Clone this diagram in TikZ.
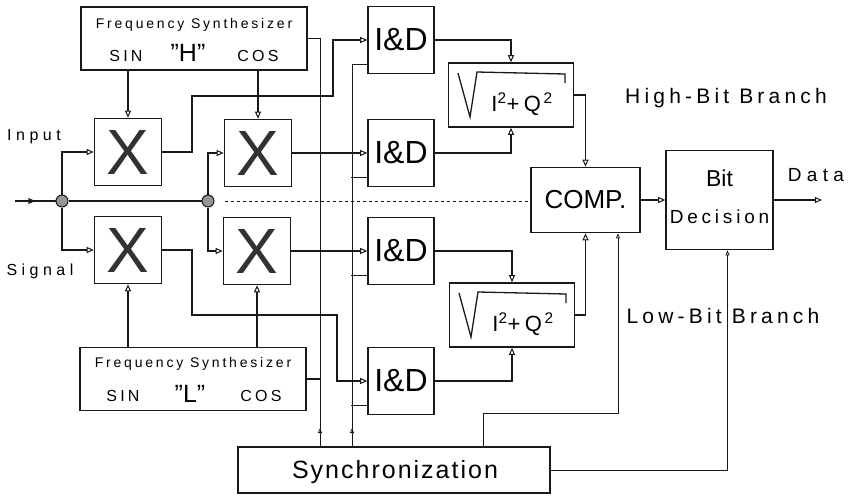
\documentclass[tikz,border=0pt]{standalone}
\usepackage{fontspec}
\setmainfont{Liberation Sans}
\newfontfamily\trackfont[LetterSpace=20]{Liberation Sans}
\newfontfamily\widefont[LetterSpace=28]{Liberation Sans}
\newfontfamily\tightfont[LetterSpace=8]{Liberation Sans}
\usepackage{tikz}
\usetikzlibrary{arrows.meta, positioning, calc, decorations.markings}
\definecolor{ink}{RGB}{25,25,25}
\definecolor{xgrey}{RGB}{50,50,50}
\definecolor{jfill}{RGB}{150,150,150}
\newcommand{\txtsize}[1]{\fontsize{#1}{#1}\selectfont}
\tikzset{
  blockbox/.style={rectangle, draw=ink, line width=1.6pt, inner sep=0pt},
  synthbox/.style={blockbox, minimum width=226pt, minimum height=63pt},
  mixer/.style={blockbox, minimum width=67pt, minimum height=67pt,
    font=\txtsize{64}, text=xgrey},
  intdump/.style={blockbox, minimum width=66pt, minimum height=67pt,
    font=\txtsize{32}},
  magbox/.style={blockbox, minimum width=125pt, minimum height=64pt},
  junction/.style={circle, draw=ink, fill=jfill, line width=1pt,
    minimum size=12pt, inner sep=0pt},
  small/.style={font=\trackfont\txtsize{14}},
  trig/.style={font=\trackfont\txtsize{16}},
  tag/.style={font=\widefont\txtsize{16}, anchor=base},
  branch/.style={font=\trackfont\txtsize{21}, anchor=base},
  wire/.style={line width=1.6pt, color=ink},
  sig/.style={wire, -{Triangle[open, length=7pt, width=6pt, line width=1pt]}},
  ctl/.style={line width=0.8pt, color=ink},
  ctlsig/.style={ctl, -{Triangle[open, length=5pt, width=4pt, line width=0.8pt]}},
  midarrow/.style={postaction={decorate}, decoration={markings,
    mark=at position 0.5 with {\arrow{Triangle[open, length=7pt, width=6pt, line width=1pt]}}}},
  dotline/.style={line width=0.8pt, color=ink, dash pattern=on 3pt off 3pt}
}

\begin{document}
\begin{tikzpicture}[x=1pt, y=-1pt]
  \useasboundingbox (0,0) rectangle (853,496);

  % Frequency synthesizers
  \node[synthbox] (synthH) at (194,38.5) {};
  \node[synthbox] (synthL) at (193,379) {};

  % Mixers
  \node[mixer] (mixA) at (128,152) {X};
  \node[mixer] (mixB) at (258,153) {X};
  \node[mixer] (mixC) at (128,250) {X};
  \node[mixer] (mixD) at (257,251) {X};

  % Integrate and dump
  \node[intdump] (idA) at (401,40) {I\&D};
  \node[intdump] (idB) at (401,153) {I\&D};
  \node[intdump] (idC) at (401,251) {I\&D};
  \node[intdump] (idD) at (401,381) {I\&D};

  % Envelope
  \node[magbox] (magA) at (511,95) {};
  \node[magbox] (magB) at (512,315) {};

  \node[blockbox, minimum width=109pt, minimum height=65pt,
    font=\txtsize{26}] (comp) at (585.5,200) {COMP.};
  \node[blockbox, minimum width=107pt, minimum height=99pt] (bitdec) at (719.5,200) {};
  \node[blockbox, minimum width=312pt, minimum height=46pt] (sync) at (394,470) {};

  \node[junction] (jA) at (62,201) {};
  \node[junction] (jB) at (208,201) {};

  % Texts
  \node[small] (titleH) at ($(synthH.north)+(0,19)$) {Frequency Synthesizer};
  \node[trig] (sinH) at ($(synthH.south -| mixA)+(-2,-15)$) {SIN};
  \node[font=\txtsize{25}] (nameH) at ($(synthH.south)+(-6,-18)$) {"H"};
  \node[trig] (cosH) at ($(synthH.south -| mixB)+(0,-15)$) {COS};
  \node[small] (titleL) at ($(synthL.north)+(0,17)$) {Frequency Synthesizer};
  \node[trig] (sinL) at ($(synthL.south -| mixA)+(-5,-15)$) {SIN};
  \node[font=\txtsize{25}] (nameL) at ($(synthL.south)+(-3,-17)$) {"L"};
  \node[trig] (cosL) at ($(synthL.south -| mixD)+(4,-15)$) {COS};
  \node[font=\txtsize{23}] (bitLbl) at ($(bitdec.center)+(0,-22)$) {Bit};
  \node[font=\trackfont\txtsize{19}] (decLbl) at ($(bitdec.center)+(0,17)$) {Decision};
  \node[font=\tightfont\txtsize{25}, anchor=base] (syncLbl) at (395,478) {Synchronization};
  \node[tag] (inLbl) at (34,140) {Input};
  \node[tag] (sigLbl) at (40,275) {Signal};
  \node[font=\widefont\txtsize{19}, anchor=base] (dataLbl) at (816,181) {Data};
  \node[branch] (hiLbl) at (726,103) {High-Bit Branch};
  \node[branch] (loLbl) at (723,323) {Low-Bit Branch};

  % Square root of I^2+Q^2
  \foreach \m in {magA,magB} {
    \draw[line width=1.3pt, color=ink] ($(\m.center)+(-53,-22)$) -- ($(\m.center)+(-41,22)$)
      -- ($(\m.center)+(-34,-23)$) -- ($(\m.center)+(54,-21)$) -- ($(\m.center)+(54,-12)$);
    \node[font=\trackfont\txtsize{22}] (\m-text) at ($(\m.center)+(11,9)$)
      {I\textsuperscript{2}+Q\textsuperscript{\,2}};
  }

  % Input and splitting
  \coordinate (inStart) at (15,201);
  \draw[wire, midarrow] (inStart) -- (jA);
  \draw[wire] (jA) -- (jB);
  \draw[sig] (jA) |- (mixA.west);
  \draw[sig] (jA) |- (mixC.west);
  \draw[sig] (jB) |- (mixB.west);
  \draw[sig] (jB) |- (mixD.west);
  \draw[dotline] (jB.east) ++(10,0) -- (jB -| comp.west);

  % Local oscillators
  \draw[sig] (synthH.south -| mixA) -- (mixA.north);
  \draw[sig] (synthH.south -| mixB) -- (mixB.north);
  \draw[sig] (synthL.north -| mixC) -- (mixC.south);
  \draw[sig] (synthL.north -| mixD) -- (mixD.south);

  % Mixer outputs
  \coordinate (bendA) at (192,96);
  \coordinate (bendB) at (333,96);
  \coordinate (bendC) at (192,315);
  \coordinate (bendD) at (337,315);
  \draw[sig] (mixA.east) -| (bendA) -- (bendB) |- (idA.west);
  \draw[sig] (mixB.east) -- (idB.west);
  \draw[sig] (mixD.east) -- (idC.west);
  \draw[sig] (mixC.east) -| (bendC) -- (bendD) |- (idD.west);

  % Envelope and comparison
  \draw[sig] (idA.east) -| (magA.north);
  \draw[sig] (idB.east) -| (magA.south);
  \draw[sig] (idC.east) -| (magB.north);
  \draw[sig] (idD.east) -| (magB.south);
  \draw[sig] (magA.east) -| (comp.north);
  \draw[sig] (magB.east) -| (comp.south);
  \draw[sig] (comp.east) -- (bitdec.west);
  \coordinate (dataEnd) at (822,200);
  \draw[sig] (bitdec.east) -- (dataEnd);

  % Synchronization
  \coordinate (busA) at (320,447);
  \coordinate (busB) at (352,447);
  \draw[ctl] (synthH.east) -| (busA);
  \draw[wire] (synthL.east) -- (synthL.east -| busA);
  \draw[ctlsig] (busA) -- ++(0,-19);
  \draw[ctl] (busB) |- ($(idA.south west)+(0,-10)$);
  \foreach \n in {idB,idC,idD}
    \draw[ctl] ($(\n.south west)+(0,-10)$) -- ($(\n.south west)+(-16,-10)$);
  \draw[ctlsig] (busB) -- ++(0,-19);
  \coordinate (syncTap) at (483,447);
  \coordinate (lowTurn) at (618,413);
  \draw[ctlsig] (syncTap) |- (lowTurn) -- (lowTurn |- comp.south);
  \draw[ctlsig] (sync.east) -| ($(bitdec.south)+(8,0)$);
\end{tikzpicture}
\end{document}
